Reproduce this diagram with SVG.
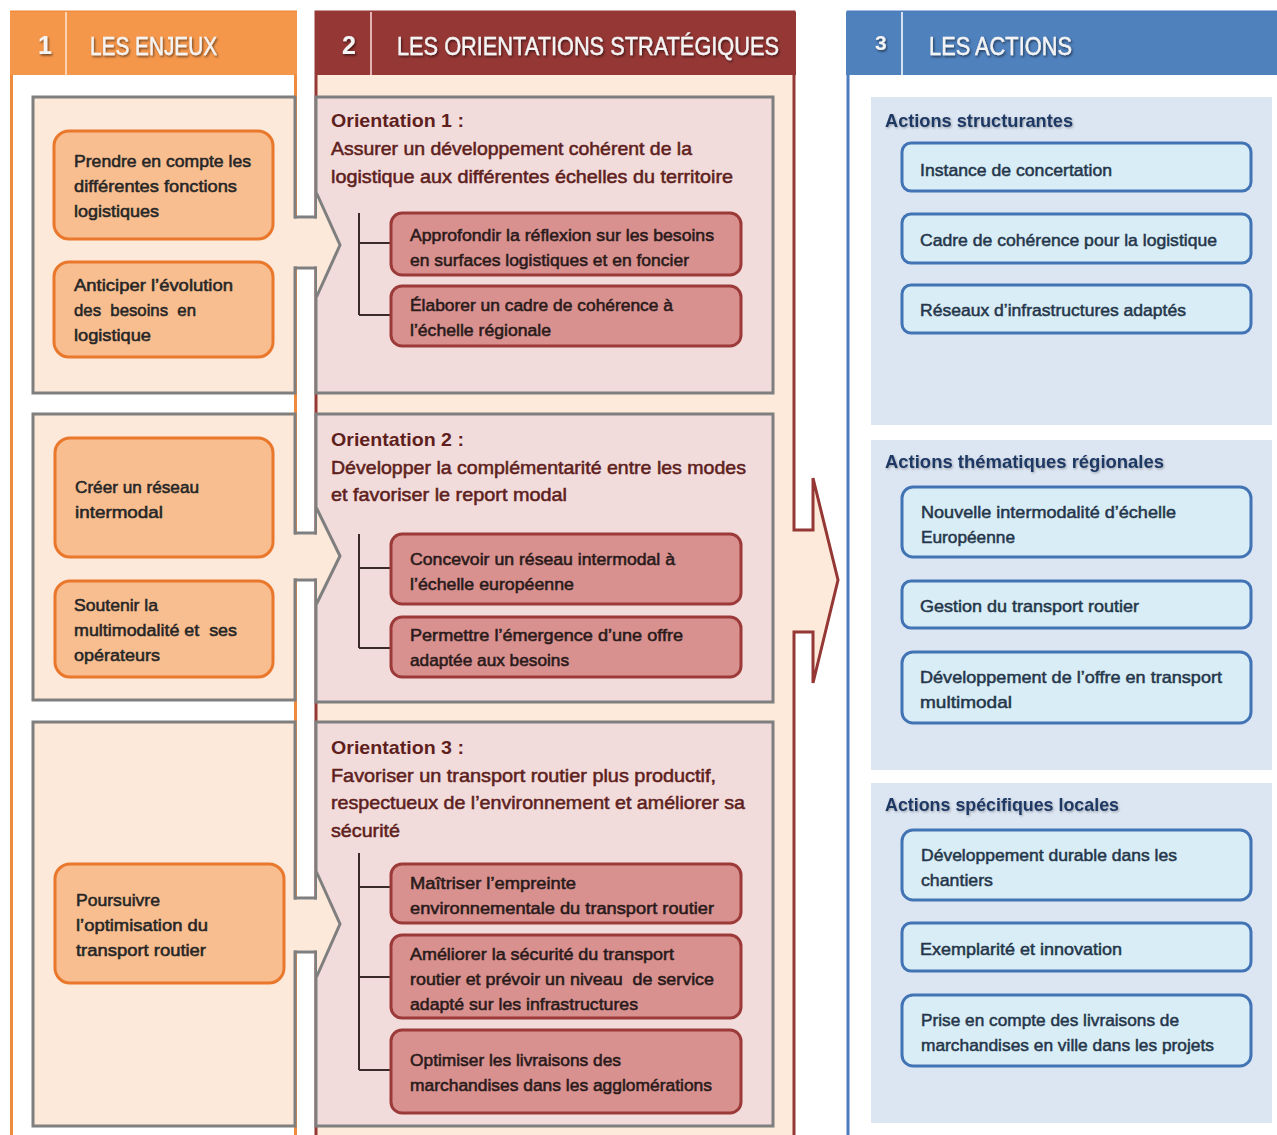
<svg xmlns="http://www.w3.org/2000/svg" width="1277" height="1135" viewBox="0 0 1277 1135">
  <defs>
    <filter id="hdrShadow" x="-10%" y="-30%" width="120%" height="160%">
      <feDropShadow dx="1.2" dy="1.6" stdDeviation="1" flood-color="#000" flood-opacity="0.55"/>
    </filter>
    <filter id="titleShadow" x="-10%" y="-30%" width="120%" height="160%">
      <feDropShadow dx="1" dy="1.2" stdDeviation="1" flood-color="#000" flood-opacity="0.3"/>
    </filter>
    <style>
      text { font-family: "Liberation Sans", Arial, sans-serif; }
      .hdr { font-size: 25px; fill: #F4F4F4; stroke: #F4F4F4; stroke-width: 0.4; filter: url(#hdrShadow); }
      .num { font-size: 25px; font-weight: bold; fill: #F4F4F4; filter: url(#hdrShadow); }
      .sep { stroke-width: 2; }
      .frame1 { fill: #FFFFFF; stroke: #F08A3C; stroke-width: 3; }
      .frame2 { fill: #FDEADA; stroke: #953735; stroke-width: 3; }
      .frame3 { fill: #FFFFFF; stroke: #4A7CBE; stroke-width: 3; }
      .peach { fill: #FDE9D9; stroke: #7F7F7F; stroke-width: 3; }
      .pink { fill: #F2DBDB; stroke: #7F7F7F; stroke-width: 3; }
      .obox { fill: #F9BE90; stroke: #E9772C; stroke-width: 3; }
      .otxt { font-size: 17px; fill: #262626; stroke: #262626; stroke-width: 0.55; }
      .orT { font-size: 19px; font-weight: bold; fill: #5E1F1D; }
      .orL { font-size: 19px; fill: #5E1F1D; stroke: #5E1F1D; stroke-width: 0.55; }
      .sbox { fill: #D8918F; stroke: #9B3A38; stroke-width: 3; }
      .stxt { font-size: 17px; fill: #2A1A1A; stroke: #2A1A1A; stroke-width: 0.55; }
      .tree { fill: none; stroke: #3A2A2A; stroke-width: 2; }
      .panel { fill: #DCE6F2; }
      .ptitle { font-size: 19px; font-weight: bold; fill: #1F3864; filter: url(#titleShadow); }
      .abox { fill: #D8EDF6; stroke: #4274B5; stroke-width: 3; }
      .atxt { font-size: 17px; fill: #25364A; stroke: #25364A; stroke-width: 0.5; }
      .arrowFill { fill: #FDE9D9; stroke: none; }
      .arrowLine { fill: none; stroke: #7F7F7F; stroke-width: 3; stroke-linejoin: miter; }
    </style>
  </defs>

  <rect width="1277" height="1135" fill="#FFFFFF"/>

  <!-- Column frames -->
  <g id="column-frames">
    <rect class="frame1" x="11.5" y="12" width="284" height="1135"/>
    <path class="frame2" d="M316,12 H794 V530 H813 V478 L838,580 L813,683 V632 H794 V1147 H316 Z"/>
    <rect class="frame3" x="848" y="12" width="440" height="1135"/>
  </g>

  <!-- Column headers -->
  <g id="header-1">
    <rect x="10" y="12" width="287" height="63" fill="#F5974B"/>
    <line class="sep" x1="66" y1="12" x2="66" y2="75" stroke="#FBD3B3"/>
    <text class="num" x="38" y="54">1</text>
    <text class="hdr" x="90" y="55" textLength="127" lengthAdjust="spacingAndGlyphs">LES ENJEUX</text>
  </g>
  <g id="header-2">
    <rect x="315" y="12" width="481" height="63" fill="#953735"/>
    <line class="sep" x1="371" y1="12" x2="371" y2="75" stroke="#E2B3B2"/>
    <text class="num" x="342" y="54">2</text>
    <text class="hdr" x="397" y="55" textLength="382" lengthAdjust="spacingAndGlyphs">LES ORIENTATIONS STRATÉGIQUES</text>
  </g>
  <g id="header-3">
    <rect x="846" y="12" width="431" height="63" fill="#4F81BD"/>
    <line class="sep" x1="902" y1="12" x2="902" y2="75" stroke="#D5E1F0"/>
    <text class="num" x="875" y="50" style="font-size:21px">3</text>
    <text class="hdr" x="929" y="55" textLength="143" lengthAdjust="spacingAndGlyphs">LES ACTIONS</text>
  </g>

  <!-- Row frames: challenges (left) and orientations (middle) -->
  <g id="row-1">
    <rect class="peach" x="33" y="97" width="262" height="296"/>
    <rect class="pink" x="316" y="97" width="457" height="296"/>
  </g>
  <g id="row-2">
    <rect class="peach" x="33" y="414" width="262" height="286"/>
    <rect class="pink" x="316" y="414" width="457" height="288"/>
  </g>
  <g id="row-3">
    <rect class="peach" x="33" y="722" width="262" height="404"/>
    <rect class="pink" x="316" y="722" width="457" height="404"/>
  </g>

  <!-- Connectors -->
  <g id="connectors">
    <!-- row arrows from challenges to orientations -->
    <polygon class="arrowFill" points="293,218.5 317,218.5 317,193 340,245 317,297 317,266.5 293,266.5"/>
    <path class="arrowLine" d="M294,217 H316.5 M316.5,193 L340,245 L316.5,297 M294,268 H316.5"/>
    <polygon class="arrowFill" points="293,534.5 317,534.5 317,508 340,556 317,604 317,578.5 293,578.5"/>
    <path class="arrowLine" d="M294,533 H316.5 M316.5,508 L340,556 L316.5,604 M294,580 H316.5"/>
    <polygon class="arrowFill" points="293,899.5 317,899.5 317,872 340,924 317,977 317,950.5 293,950.5"/>
    <path class="arrowLine" d="M294,898 H316.5 M316.5,872 L340,924 L316.5,977 M294,952 H316.5"/>

    <!-- branches to sub-objectives -->
    <path class="tree" d="M359,213 V315 M359,243 H391 M359,315 H391"/>
    <path class="tree" d="M359,534 V648 M359,568 H391 M359,648 H391"/>
    <path class="tree" d="M359,853 V1070 M359,887 H391 M359,977 H391 M359,1070 H391"/>
  </g>

  <!-- Challenges (column 1) -->
  <g id="enjeu-1">
    <rect class="obox" x="54" y="131" width="219" height="108" rx="15"/>
    <text class="otxt" x="74" y="167" textLength="177" lengthAdjust="spacingAndGlyphs">Prendre en compte les</text>
    <text class="otxt" x="74" y="192" textLength="163" lengthAdjust="spacingAndGlyphs">différentes fonctions</text>
    <text class="otxt" x="74" y="217" textLength="85" lengthAdjust="spacingAndGlyphs">logistiques</text>
  </g>
  <g id="enjeu-2">
    <rect class="obox" x="54" y="262" width="219" height="95" rx="15"/>
    <text class="otxt" x="74" y="291" textLength="159" lengthAdjust="spacingAndGlyphs">Anticiper l’évolution</text>
    <text class="otxt" x="74" y="316" textLength="122" lengthAdjust="spacingAndGlyphs" xml:space="preserve">des  besoins  en</text>
    <text class="otxt" x="74" y="341" textLength="77" lengthAdjust="spacingAndGlyphs">logistique</text>
  </g>
  <g id="enjeu-3">
    <rect class="obox" x="55" y="438" width="218" height="119" rx="15"/>
    <text class="otxt" x="75" y="493" textLength="124" lengthAdjust="spacingAndGlyphs">Créer un réseau</text>
    <text class="otxt" x="75" y="518" textLength="88" lengthAdjust="spacingAndGlyphs">intermodal</text>
  </g>
  <g id="enjeu-4">
    <rect class="obox" x="55" y="581" width="218" height="96" rx="15"/>
    <text class="otxt" x="74" y="611" textLength="84" lengthAdjust="spacingAndGlyphs">Soutenir la</text>
    <text class="otxt" x="74" y="636" textLength="163" lengthAdjust="spacingAndGlyphs" xml:space="preserve">multimodalité et  ses</text>
    <text class="otxt" x="74" y="661" textLength="86" lengthAdjust="spacingAndGlyphs">opérateurs</text>
  </g>
  <g id="enjeu-5">
    <rect class="obox" x="55" y="864" width="229" height="119" rx="15"/>
    <text class="otxt" x="76" y="906" textLength="84" lengthAdjust="spacingAndGlyphs">Poursuivre</text>
    <text class="otxt" x="76" y="931" textLength="132" lengthAdjust="spacingAndGlyphs">l’optimisation du</text>
    <text class="otxt" x="76" y="956" textLength="130" lengthAdjust="spacingAndGlyphs">transport routier</text>
  </g>

  <!-- Strategic orientations (column 2) -->
  <g id="orientation-1">
    <text class="orT" x="331" y="127" textLength="133" lengthAdjust="spacingAndGlyphs">Orientation 1 :</text>
    <text class="orL" x="331" y="155" textLength="361" lengthAdjust="spacingAndGlyphs">Assurer un développement cohérent de la</text>
    <text class="orL" x="331" y="183" textLength="402" lengthAdjust="spacingAndGlyphs">logistique aux différentes échelles du territoire</text>
  </g>
  <g id="objectif-1-1">
    <rect class="sbox" x="391" y="213" width="350" height="62" rx="11"/>
    <text class="stxt" x="410" y="241" textLength="304" lengthAdjust="spacingAndGlyphs">Approfondir la réflexion sur les besoins</text>
    <text class="stxt" x="410" y="266" textLength="279" lengthAdjust="spacingAndGlyphs">en surfaces logistiques et en foncier</text>
  </g>
  <g id="objectif-1-2">
    <rect class="sbox" x="391" y="286" width="350" height="60" rx="11"/>
    <text class="stxt" x="410" y="311" textLength="263" lengthAdjust="spacingAndGlyphs">Élaborer un cadre de cohérence à</text>
    <text class="stxt" x="410" y="336" textLength="141" lengthAdjust="spacingAndGlyphs">l’échelle régionale</text>
  </g>

  <g id="orientation-2">
    <text class="orT" x="331" y="446" textLength="133" lengthAdjust="spacingAndGlyphs">Orientation 2 :</text>
    <text class="orL" x="331" y="474" textLength="415" lengthAdjust="spacingAndGlyphs">Développer la complémentarité entre les modes</text>
    <text class="orL" x="331" y="501" textLength="236" lengthAdjust="spacingAndGlyphs">et favoriser le report modal</text>
  </g>
  <g id="objectif-2-1">
    <rect class="sbox" x="391" y="534" width="350" height="70" rx="11"/>
    <text class="stxt" x="410" y="565" textLength="265" lengthAdjust="spacingAndGlyphs">Concevoir un réseau intermodal à</text>
    <text class="stxt" x="410" y="590" textLength="164" lengthAdjust="spacingAndGlyphs">l’échelle européenne</text>
  </g>
  <g id="objectif-2-2">
    <rect class="sbox" x="391" y="617" width="350" height="60" rx="11"/>
    <text class="stxt" x="410" y="641" textLength="273" lengthAdjust="spacingAndGlyphs">Permettre l’émergence d’une offre</text>
    <text class="stxt" x="410" y="666" textLength="159" lengthAdjust="spacingAndGlyphs">adaptée aux besoins</text>
  </g>

  <g id="orientation-3">
    <text class="orT" x="331" y="754" textLength="133" lengthAdjust="spacingAndGlyphs">Orientation 3 :</text>
    <text class="orL" x="331" y="782" textLength="385" lengthAdjust="spacingAndGlyphs">Favoriser un transport routier plus productif,</text>
    <text class="orL" x="331" y="809" textLength="414" lengthAdjust="spacingAndGlyphs">respectueux de l’environnement et améliorer sa</text>
    <text class="orL" x="331" y="837" textLength="69" lengthAdjust="spacingAndGlyphs">sécurité</text>
  </g>
  <g id="objectif-3-1">
    <rect class="sbox" x="391" y="864" width="350" height="59" rx="11"/>
    <text class="stxt" x="410" y="889" textLength="166" lengthAdjust="spacingAndGlyphs">Maîtriser l’empreinte</text>
    <text class="stxt" x="410" y="914" textLength="304" lengthAdjust="spacingAndGlyphs">environnementale du transport routier</text>
  </g>
  <g id="objectif-3-2">
    <rect class="sbox" x="391" y="935" width="350" height="83" rx="11"/>
    <text class="stxt" x="410" y="960" textLength="264" lengthAdjust="spacingAndGlyphs">Améliorer la sécurité du transport</text>
    <text class="stxt" x="410" y="985" textLength="304" lengthAdjust="spacingAndGlyphs" xml:space="preserve">routier et prévoir un niveau  de service</text>
    <text class="stxt" x="410" y="1010" textLength="228" lengthAdjust="spacingAndGlyphs">adapté sur les infrastructures</text>
  </g>
  <g id="objectif-3-3">
    <rect class="sbox" x="391" y="1030" width="350" height="83" rx="11"/>
    <text class="stxt" x="410" y="1066" textLength="211" lengthAdjust="spacingAndGlyphs">Optimiser les livraisons des</text>
    <text class="stxt" x="410" y="1091" textLength="302" lengthAdjust="spacingAndGlyphs">marchandises dans les agglomérations</text>
  </g>

  <!-- Actions (column 3) -->
  <g id="actions-structurantes">
    <rect class="panel" x="871" y="97" width="401" height="328"/>
    <text class="ptitle" x="885" y="127" textLength="188" lengthAdjust="spacingAndGlyphs">Actions structurantes</text>
  </g>
  <g id="action-1-1">
    <rect class="abox" x="902" y="143" width="349" height="48" rx="9"/>
    <text class="atxt" x="920" y="176" textLength="192" lengthAdjust="spacingAndGlyphs">Instance de concertation</text>
  </g>
  <g id="action-1-2">
    <rect class="abox" x="902" y="214" width="349" height="49" rx="9"/>
    <text class="atxt" x="920" y="246" textLength="297" lengthAdjust="spacingAndGlyphs">Cadre de cohérence pour la logistique</text>
  </g>
  <g id="action-1-3">
    <rect class="abox" x="902" y="285" width="349" height="48" rx="9"/>
    <text class="atxt" x="920" y="316" textLength="266" lengthAdjust="spacingAndGlyphs">Réseaux d’infrastructures adaptés</text>
  </g>

  <g id="actions-thematiques">
    <rect class="panel" x="871" y="440" width="401" height="330"/>
    <text class="ptitle" x="885" y="468" textLength="279" lengthAdjust="spacingAndGlyphs">Actions thématiques régionales</text>
  </g>
  <g id="action-2-1">
    <rect class="abox" x="902" y="487" width="349" height="70" rx="11"/>
    <text class="atxt" x="921" y="518" textLength="255" lengthAdjust="spacingAndGlyphs">Nouvelle intermodalité d’échelle</text>
    <text class="atxt" x="921" y="543" textLength="94" lengthAdjust="spacingAndGlyphs">Européenne</text>
  </g>
  <g id="action-2-2">
    <rect class="abox" x="902" y="581" width="349" height="47" rx="9"/>
    <text class="atxt" x="920" y="612" textLength="219" lengthAdjust="spacingAndGlyphs">Gestion du transport routier</text>
  </g>
  <g id="action-2-3">
    <rect class="abox" x="902" y="652" width="349" height="71" rx="11"/>
    <text class="atxt" x="920" y="683" textLength="302" lengthAdjust="spacingAndGlyphs">Développement de l’offre en transport</text>
    <text class="atxt" x="920" y="708" textLength="92" lengthAdjust="spacingAndGlyphs">multimodal</text>
  </g>

  <g id="actions-locales">
    <rect class="panel" x="871" y="783" width="401" height="340"/>
    <text class="ptitle" x="885" y="811" textLength="234" lengthAdjust="spacingAndGlyphs">Actions spécifiques locales</text>
  </g>
  <g id="action-3-1">
    <rect class="abox" x="902" y="830" width="349" height="70" rx="11"/>
    <text class="atxt" x="921" y="861" textLength="256" lengthAdjust="spacingAndGlyphs">Développement durable dans les</text>
    <text class="atxt" x="921" y="886" textLength="72" lengthAdjust="spacingAndGlyphs">chantiers</text>
  </g>
  <g id="action-3-2">
    <rect class="abox" x="902" y="923" width="349" height="48" rx="9"/>
    <text class="atxt" x="920" y="955" textLength="202" lengthAdjust="spacingAndGlyphs">Exemplarité et innovation</text>
  </g>
  <g id="action-3-3">
    <rect class="abox" x="902" y="995" width="349" height="71" rx="11"/>
    <text class="atxt" x="921" y="1026" textLength="258" lengthAdjust="spacingAndGlyphs">Prise en compte des livraisons de</text>
    <text class="atxt" x="921" y="1051" textLength="293" lengthAdjust="spacingAndGlyphs">marchandises en ville dans les projets</text>
  </g>
</svg>
